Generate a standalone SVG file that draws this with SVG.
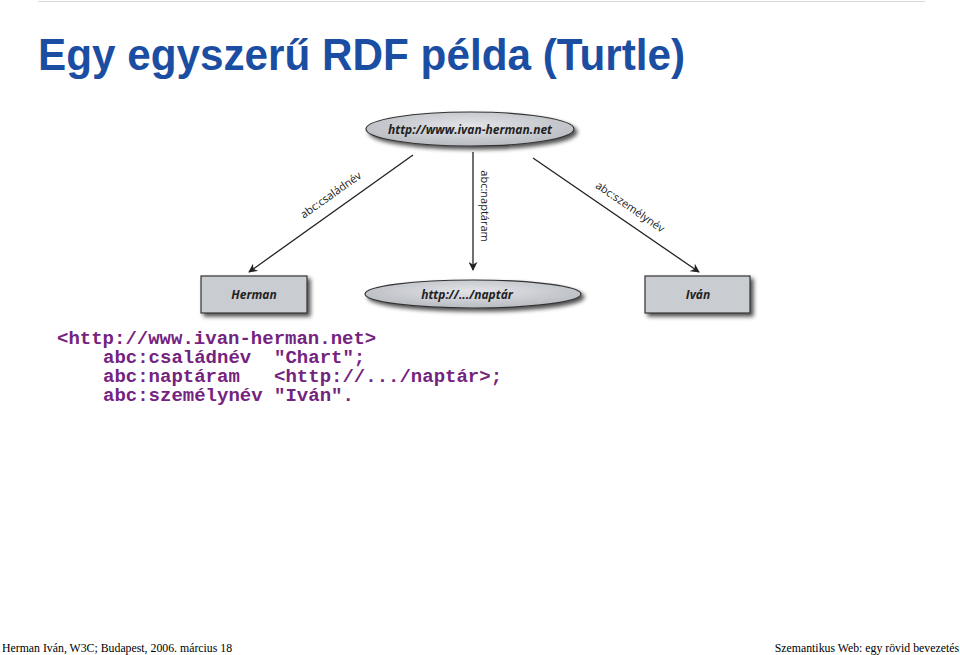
<svg xmlns="http://www.w3.org/2000/svg" width="960" height="655" viewBox="0 0 960 655">
<style>
.node{fill:#c9ccd1;stroke:#333;stroke-width:1.2}
.ntxt{font-family:"Open Sans","DejaVu Sans",sans-serif;font-weight:bold;font-style:italic;font-size:12px;fill:#222;text-anchor:middle}
.elab{font-family:"Open Sans","DejaVu Sans",sans-serif;font-size:11px;fill:#222;text-anchor:middle}
.edge{stroke:#222;stroke-width:1.3;fill:none;marker-end:url(#ah)}
.code{font-family:"Liberation Mono",monospace;font-weight:bold;font-size:19px;fill:#74237f;white-space:pre}
.foot{font-family:"Liberation Serif",serif;font-size:11.8px;fill:#000}
</style>
<defs>
<marker id="ah" viewBox="0 0 10 10" refX="9" refY="5" markerWidth="9" markerHeight="9" markerUnits="userSpaceOnUse" orient="auto">
<path d="M0,0 L10,5 L0,10 L3,5 Z" fill="#222"/>
</marker>
<radialGradient id="eg" cx="0.5" cy="0.4" r="0.6">
<stop offset="0" stop-color="#e2e4e8"/>
<stop offset="1" stop-color="#b8bbc1"/>
</radialGradient>
<filter id="sh" x="-20%" y="-30%" width="140%" height="180%">
<feGaussianBlur in="SourceAlpha" stdDeviation="2"/>
<feOffset dx="3" dy="3"/>
<feComponentTransfer><feFuncA type="linear" slope="0.7"/></feComponentTransfer>
<feMerge><feMergeNode/><feMergeNode in="SourceGraphic"/></feMerge>
</filter>
</defs>
<rect width="960" height="655" fill="#fff"/>
<line x1="38" y1="1.5" x2="925" y2="1.5" stroke="#d8d8d8" stroke-width="1"/>
<text x="38" y="70" font-family="Liberation Sans, Arial, sans-serif" font-weight="bold" font-size="45" fill="#1b4ea2" textLength="647" lengthAdjust="spacingAndGlyphs">Egy egyszerű RDF példa (Turtle)</text>

<g id="edges">
<line class="edge" x1="413" y1="155" x2="249" y2="272"/>
<line class="edge" x1="473" y1="152" x2="473" y2="270"/>
<line class="edge" x1="533" y1="158" x2="699" y2="272"/>
<text class="elab" transform="translate(333,198) rotate(-35.5)">abc:családnév</text>
<text class="elab" transform="translate(481,206) rotate(90)">abc:naptáram</text>
<text class="elab" transform="translate(628,210) rotate(34.5)">abc:személynév</text>
</g>

<g id="n-ivan-herman">
<ellipse class="node" cx="470" cy="129" rx="104" ry="17" style="fill:url(#eg)" filter="url(#sh)"/>
<text class="ntxt" x="470" y="133.5">http://www.ivan-herman.net</text>
</g>
<g id="n-herman">
<rect class="node" x="201" y="276" width="106" height="37" filter="url(#sh)"/>
<text class="ntxt" x="254" y="299">Herman</text>
</g>
<g id="n-naptar">
<ellipse class="node" cx="473" cy="294" rx="108" ry="14" style="fill:url(#eg)" filter="url(#sh)"/>
<text class="ntxt" x="467" y="298.5">http://.../naptár</text>
</g>
<g id="n-ivan">
<rect class="node" x="645" y="276" width="105" height="37" filter="url(#sh)"/>
<text class="ntxt" x="698" y="299">Iván</text>
</g>

<g id="code">
<text class="code" x="57" y="344">&lt;http://www.ivan-herman.net&gt;</text>
<text class="code" x="103" y="363" xml:space="preserve">abc:családnév  "Chart";</text>
<text class="code" x="103" y="382" xml:space="preserve">abc:naptáram   &lt;http://.../naptár&gt;;</text>
<text class="code" x="103" y="401" xml:space="preserve">abc:személynév "Iván".</text>
</g>

<text class="foot" x="2" y="652">Herman Iván, W3C; Budapest, 2006. március 18</text>
<text class="foot" x="959" y="652" text-anchor="end">Szemantikus Web: egy rövid bevezetés</text>
</svg>
